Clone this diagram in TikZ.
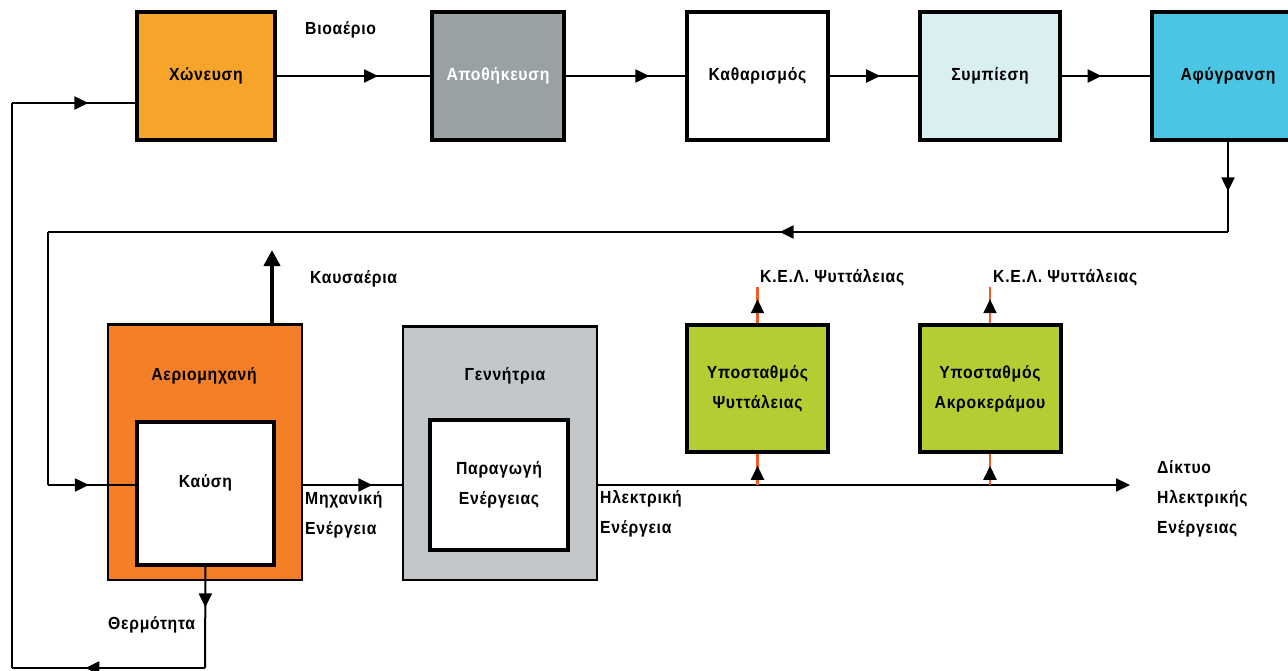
\documentclass[tikz,border=0pt]{standalone}
\usepackage{fontspec}
\setmainfont{Liberation Sans}[LetterSpace=4, FakeStretch=0.9]
\usetikzlibrary{arrows.meta,decorations.markings}
\definecolor{digest}{HTML}{F7A52A}
\definecolor{store}{HTML}{9AA1A4}
\definecolor{compress}{HTML}{D9EFF2}
\definecolor{dry}{HTML}{4BC5E4}
\definecolor{turbine}{HTML}{F47F26}
\definecolor{genbox}{HTML}{C4C7CA}
\definecolor{station}{HTML}{B6CC33}
\definecolor{wire}{HTML}{F05A28}
\tikzset{
  txt/.style={font=\bfseries\fontsize{17.5}{30}\selectfont},
  stage/.style={draw, line width=3.5pt, minimum width=#1, minimum height=128pt, inner sep=0pt, txt},
  outerbox/.style={draw, line width=1.5pt, inner sep=0pt},
  innerbox/.style={draw, line width=4pt, fill=white, inner sep=0pt, align=center, txt},
  substation/.style={draw, line width=4pt, fill=station, minimum width=141pt, minimum height=127pt, inner sep=0pt, align=center, txt},
  flow/.style={line width=2pt},
  redline/.style={line width=2.2pt, draw=wire},
  lbl/.style={txt, inner sep=0pt, anchor=west, align=left},
  midarr/.style={postaction={decorate,decoration={markings,
      mark=at position #1 with {\arrow{Triangle[length=14pt,width=13pt,color=black]}}}}},
}
\begin{document}
\begin{tikzpicture}[x=1pt,y=-1pt]
\useasboundingbox[fill=white] (0,0) rectangle (1288,671);

% ---- upper process chain ----
\node[stage=138pt, fill=digest]  (xon)  at (206,76)    {Χώνευση};
\node[stage=132pt, fill=store, text=white] (apo) at (498,76) {Αποθήκευση};
\node[stage=141pt, fill=white]   (kath) at (757.5,76)  {Καθαρισμός};
\node[stage=140pt, fill=compress] (sym) at (990,76)    {Συμπίεση};
\node[stage=152pt, fill=dry]     (afy)  at (1228,76)   {Αφύγρανση};

\draw[flow, midarr=0.66] (xon.east) -- (apo.west);
\draw[flow, midarr=0.70] (apo.east) -- (kath.west);
\draw[flow, midarr=0.57] (kath.east) -- (sym.west);
\draw[line width=2.6pt, midarr=0.45] (sym.east) -- (afy.west);
\node[lbl] (bio) at (305,30) {Βιοαέριο};

% ---- gas turbine ----
\node[outerbox, fill=turbine, minimum width=194pt, minimum height=255pt] (aer) at (205,452.5) {};
\draw[line width=3pt] (aer.north west) -- (aer.north east);
\node[txt] (aertitle) at (204,376) {Αεριομηχανή};
\node[innerbox, minimum width=137pt, minimum height=143pt] (kau) at (205.5,493.5) {};
\node[txt] (kautext) at (205.5,483) {Καύση};

% ---- generator ----
\node[outerbox, fill=genbox, minimum width=194pt, minimum height=253pt] (gen) at (500,453.5) {};
\draw[line width=3pt] (gen.north west) -- (gen.north east);
\node[txt] (gentitle) at (505,376) {Γεννήτρια};
\node[innerbox, minimum width=138pt, minimum height=130pt] (par) at (499,485) {Παραγωγή\\Ενέργειας};

% ---- substations ----
\node[substation] (ypo1) at (757.5,388.5) {Υποσταθμός\\Ψυττάλειας};
\node[substation] (ypo2) at (990,388.5)   {Υποσταθμός\\Ακροκεράμου};

% ---- routing points ----
\coordinate (c1) at (1228,232);
\coordinate (c2) at (48,232);
\coordinate (c3) at (48,485);
\coordinate (c4) at (12,103);
\coordinate (c5) at (12,668);
\coordinate (c6) at (205,668);
\coordinate (ex) at (272,250);
\coordinate (bus) at (1130,485);
\coordinate (k1) at (757.5,287);
\coordinate (k2) at (990,287);

% biogas return to the turbine
\draw[flow, midarr=0.55] (afy.south) -- (c1);
\draw[flow, midarr=0.38] (c1) -- (c2);
\draw[flow] (c2) -- (c3);
\draw[flow, midarr=0.47] (c3) -- (c3 -| kau.west);

% heat loop back to the digester
\draw[flow, midarr=0.40] (kau.south) -- (c6);
\draw[flow, midarr=0.62] (c6) -- (c5);
\draw[flow] (c5) -- (c4);
\draw[flow, midarr=0.62] (c4) -- (c4 -| xon.west);
\node[lbl] (therm) at (108,625) {Θερμότητα};

% exhaust
\draw[line width=4pt, -{Triangle[length=16pt,width=16pt]}] (aer.north -| ex) -- (ex);
\node[lbl] (exh) at (310,279) {Καυσαέρια};

% mechanical and electrical energy
\draw[flow, midarr=0.70] (c3 -| aer.east) -- (c3 -| gen.west);
\node[lbl] (mech) at (305,515) {Μηχανική\\Ενέργεια};
\draw[flow, -{Triangle[length=14pt,width=13pt]}] (c3 -| gen.east) -- (bus);
\node[lbl] (elec) at (600,514) {Ηλεκτρική\\Ενέργεια};
\node[lbl] (grid) at (1157,499) {Δίκτυο\\Ηλεκτρικής\\Ενέργειας};

% feeds to and from the substations
\draw[redline, midarr=0.62] (ypo1.south |- bus) -- (ypo1.south);
\draw[redline, midarr=0.62] (ypo2.south |- bus) -- (ypo2.south);
\draw[redline, midarr=0.66] (ypo1.north) -- (k1);
\draw[redline, midarr=0.66] (ypo2.north) -- (k2);
\node[lbl] (kel1) at (760,278) {Κ.Ε.Λ. Ψυττάλειας};
\node[lbl] (kel2) at (993,278) {Κ.Ε.Λ. Ψυττάλειας};
\end{tikzpicture}
\end{document}
